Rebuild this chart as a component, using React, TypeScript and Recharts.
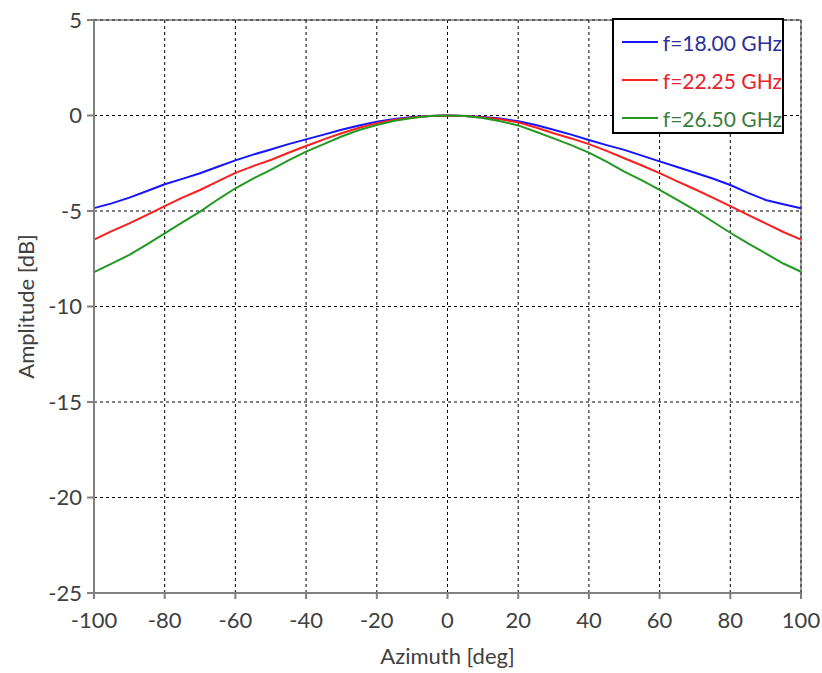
import React from 'react';
import {
  LineChart,
  Line,
  XAxis,
  YAxis,
  CartesianGrid,
  ReferenceLine,
  Label,
} from 'recharts';

// Azimuth samples, 5 deg step
const azimuth = [
  -100, -95, -90, -85, -80, -75, -70, -65, -60, -55, -50, -45, -40, -35, -30,
  -25, -20, -15, -10, -5, 0, 5, 10, 15, 20, 25, 30, 35, 40, 45, 50, 55, 60, 65,
  70, 75, 80, 85, 90, 95, 100,
];

const amp18 = [
  -4.85, -4.6, -4.3, -3.95, -3.6, -3.32, -3.02, -2.68, -2.35, -2.05, -1.78,
  -1.5, -1.25, -1.0, -0.75, -0.52, -0.32, -0.18, -0.08, -0.02, 0, -0.02, -0.08,
  -0.16, -0.3, -0.5, -0.75, -1.0, -1.28, -1.55, -1.8, -2.1, -2.4, -2.7, -3.0,
  -3.3, -3.64, -4.05, -4.42, -4.65, -4.86,
];

const amp2225 = [
  -6.5, -6.05, -5.65, -5.2, -4.75, -4.3, -3.9, -3.45, -3.0, -2.65, -2.33,
  -1.95, -1.6, -1.25, -0.93, -0.64, -0.4, -0.22, -0.1, -0.03, 0, -0.03, -0.1,
  -0.2, -0.36, -0.63, -0.93, -1.2, -1.5, -1.85, -2.24, -2.62, -3.02, -3.45,
  -3.86, -4.3, -4.74, -5.2, -5.65, -6.1, -6.5,
];

const amp2650 = [
  -8.2, -7.75, -7.3, -6.75, -6.17, -5.6, -5.03, -4.4, -3.81, -3.3, -2.85,
  -2.35, -1.89, -1.5, -1.1, -0.76, -0.5, -0.28, -0.13, -0.03, 0, -0.03, -0.13,
  -0.3, -0.52, -0.85, -1.2, -1.55, -1.94, -2.42, -2.94, -3.4, -3.9, -4.42,
  -4.95, -5.55, -6.14, -6.7, -7.22, -7.75, -8.18,
];

const xTicks = [-100, -80, -60, -40, -20, 0, 20, 40, 60, 80, 100];
const yTicks = [-25, -20, -15, -10, -5, 0, 5];

const seriesInfo = [
  { key: 'f18', name: 'f=18.00 GHz', color: '#1414ff', text: '#2b2f9a' },
  { key: 'f22', name: 'f=22.25 GHz', color: '#ff1e1e', text: '#e8202a' },
  { key: 'f26', name: 'f=26.50 GHz', color: '#229922', text: '#3a7d3e' },
];

const chartData = azimuth.map((az, i) => ({
  az,
  f18: amp18[i],
  f22: amp2225[i],
  f26: amp2650[i],
}));

const FONT = 'Lato, "Liberation Sans", sans-serif';

// legend drawn as an overlay so it doesn't steal plot space
const LegendBox = () => (
  <div
    style={{
      position: 'absolute',
      left: 612,
      top: 18,
      width: 172,
      height: 116,
      border: '2px solid #000',
      background: '#fff',
      fontFamily: FONT,
      fontSize: 21,
      paddingTop: 3,
      boxSizing: 'border-box',
    }}
  >
    {seriesInfo.map((s) => (
      <div
        key={s.key}
        style={{ display: 'flex', alignItems: 'center', height: 38, paddingLeft: 8 }}
      >
        <span
          style={{
            display: 'inline-block',
            width: 41,
            height: 2,
            background: s.color,
            marginRight: 5,
          }}
        />
        <span style={{ color: s.text, whiteSpace: 'nowrap' }}>{s.name}</span>
      </div>
    ))}
  </div>
);

export default function App() {
  return (
    <div style={{ position: 'absolute', left: 0, top: 0, width: 822, height: 673, background: '#fff' }}>
      <LineChart
        width={822}
        height={673}
        data={chartData}
        margin={{ top: 20, right: 21, left: 0, bottom: 0 }}
      >
        <CartesianGrid stroke="#000" strokeDasharray="3 3" strokeWidth={1} />
        <XAxis
          dataKey="az"
          type="number"
          domain={[-100, 100]}
          ticks={xTicks}
          height={80}
          stroke="#808080"
          strokeWidth={2}
          tickSize={6}
          tickMargin={13}
          tick={{ fill: '#404040', fontSize: 22, fontFamily: FONT }}
        >
          <Label
            value="Azimuth [deg]"
            position="insideBottom"
            offset={9}
            style={{ fill: '#404040', fontSize: 22, fontFamily: FONT }}
          />
        </XAxis>
        <YAxis
          type="number"
          domain={[-25, 5]}
          ticks={yTicks}
          width={94}
          stroke="#808080"
          strokeWidth={2}
          tickSize={7}
          tickMargin={5}
          tick={{ fill: '#404040', fontSize: 22, fontFamily: FONT }}
        >
          <Label
            content={({ viewBox }: any) => {
              const cx = 25;
              const cy = viewBox.y + viewBox.height / 2;
              return (
                <text
                  x={cx}
                  y={cy}
                  transform={`rotate(-90 ${cx} ${cy})`}
                  textAnchor="middle"
                  dominantBaseline="central"
                  style={{ fill: '#404040', fontSize: 22, fontFamily: FONT }}
                >
                  Amplitude [dB]
                </text>
              );
            }}
          />
        </YAxis>
        <ReferenceLine y={5} stroke="#404040" strokeWidth={1} />
        <ReferenceLine x={100} stroke="#404040" strokeWidth={1} />
        {seriesInfo.map((s) => (
          <Line
            key={s.key}
            dataKey={s.key}
            name={s.name}
            type="linear"
            stroke={s.color}
            strokeWidth={2}
            dot={false}
            isAnimationActive={false}
          />
        ))}
      </LineChart>
      <LegendBox />
    </div>
  );
}
